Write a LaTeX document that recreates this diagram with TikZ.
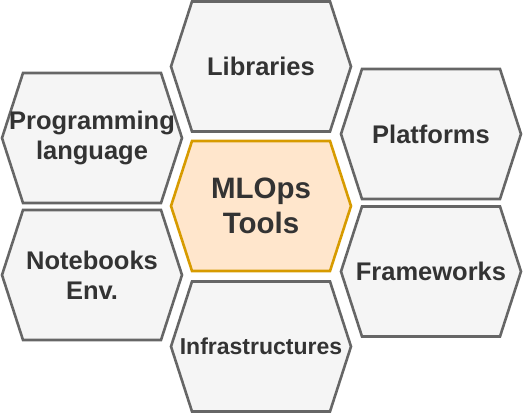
\documentclass[tikz,border=0pt]{standalone}
\usepackage{fontspec}
\setmainfont{Liberation Sans}
\usetikzlibrary{calc}
\definecolor{hexfill}{HTML}{F5F5F5}
\definecolor{hexline}{HTML}{666666}
\definecolor{corefill}{HTML}{FFE6CC}
\definecolor{coreline}{HTML}{D79B00}
\definecolor{txt}{HTML}{333333}
\tikzset{
  plainhex/.style={draw=hexline, fill=hexfill, line width=2.6pt, line join=miter},
  corehex/.style={draw=coreline, fill=corefill, line width=2.6pt, line join=miter},
  cell/.style={text=txt, align=center, inner sep=0pt, font=\bfseries\fontsize{25.5}{30}\selectfont},
  bigcell/.style={cell, font=\bfseries\fontsize{29.5}{35}\selectfont},
  smallcell/.style={cell, font=\bfseries\fontsize{23}{27}\selectfont}
}
\newcommand{\hexcell}[5]{% hex style, text style, name, center, text
  \coordinate (#3-c) at (#4);
  \draw[#1] ($(#3-c)+(-90,0)$) -- ++(21,-65) -- ++(138,0) -- ++(21,65) -- ++(-21,65) -- ++(-138,0) -- cycle;
  \node[#2] (#3) at (#3-c) {#5};
}
\begin{document}
\begin{tikzpicture}[x=1pt,y=-1pt]
\useasboundingbox (0,0) rectangle (523,413);
\hexcell{plainhex}{cell}{libraries}{261,66.5}{Libraries}
\hexcell{plainhex}{cell}{proglang}{92,138}{Programming\\language}
\hexcell{plainhex}{cell}{platforms}{431,134}{Platforms}
\hexcell{corehex}{bigcell}{mlops}{261,206}{MLOps\\Tools}
\hexcell{plainhex}{cell}{notebooks}{92,275}{Notebooks\\Env.}
\hexcell{plainhex}{smallcell}{infra}{261,346.5}{Infrastructures}
\hexcell{plainhex}{cell}{frameworks}{431,271.5}{Frameworks}
\end{tikzpicture}
\end{document}
